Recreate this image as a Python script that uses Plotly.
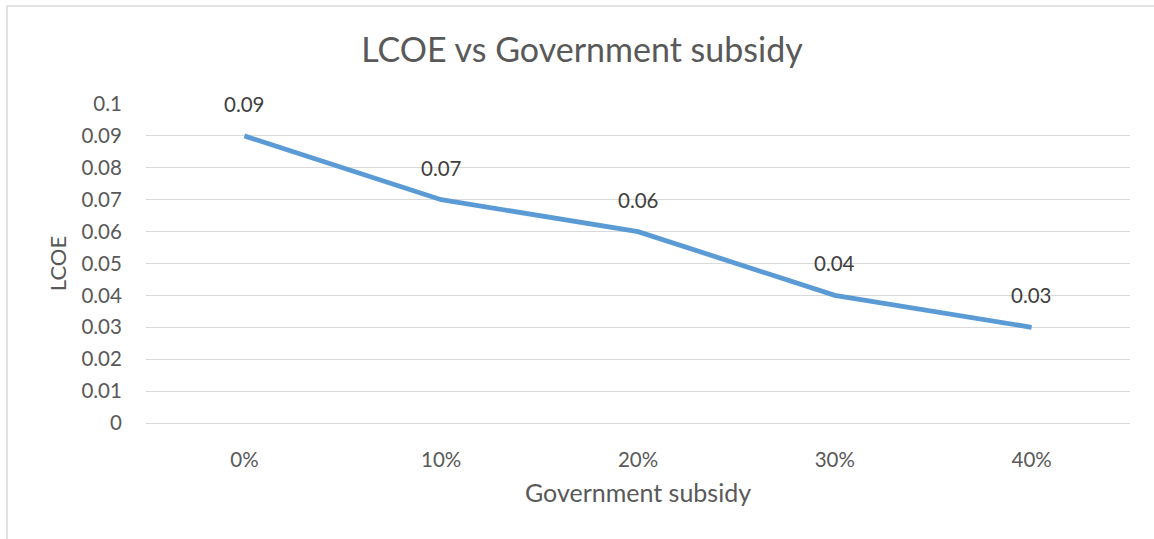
import plotly.graph_objects as go

# Data
subsidy = ["0%", "10%", "20%", "30%", "40%"]
lcoe = [0.09, 0.07, 0.06, 0.04, 0.03]
y_ticks = [0, 0.01, 0.02, 0.03, 0.04, 0.05, 0.06, 0.07, 0.08, 0.09, 0.1]

W, H = 1154, 539
L, R, T, B = 146, 24, 104, 116
pw, ph = W - L - R, H - T - B

FONT = "Lato, Open Sans, sans-serif"
GRAY = "#595959"

fig = go.Figure()
fig.add_trace(go.Scatter(
    x=subsidy, y=lcoe, mode="lines",
    line=dict(color="#5b9bd5", width=4.8),
    hoverinfo="x+y", showlegend=False,
))

# value labels above each point
for xv, yv in zip(subsidy, lcoe):
    fig.add_annotation(x=xv, y=yv, text=f"{yv:g}", showarrow=False,
                       yshift=32, font=dict(family=FONT, size=20.5, color="#404040"))

# outer chart border
def px_x(p):
    return (p - L) / pw

def px_y(p):
    return (H - B - p) / ph

fig.add_shape(type="rect", xref="paper", yref="paper",
              x0=px_x(7), x1=px_x(1170), y0=px_y(560), y1=px_y(6),
              line=dict(color="#d9d9d9", width=1.5), fillcolor="rgba(0,0,0,0)",
              layer="below")

fig.update_layout(
    width=W, height=H,
    margin=dict(l=L, r=R, t=T, b=B),
    paper_bgcolor="white", plot_bgcolor="white",
    font=dict(family=FONT, color=GRAY),
    title=dict(text="LCOE vs Government subsidy", x=582 / W, xanchor="center",
               y=1 - 50 / H, yanchor="middle",
               font=dict(family=FONT, size=34, color=GRAY)),
    xaxis=dict(
        type="category", range=[-0.5, 4.5],
        showgrid=False, showline=False, zeroline=False,
        ticks="outside", ticklen=18, tickcolor="rgba(0,0,0,0)",
        tickfont=dict(family=FONT, size=20.5, color=GRAY),
        title=dict(text="Government subsidy", standoff=14,
                   font=dict(family=FONT, size=25, color=GRAY)),
    ),
    yaxis=dict(
        range=[0, 0.1], tickvals=y_ticks, ticktext=[f"{v:g}" for v in y_ticks],
        showgrid=True, gridcolor="#d9d9d9", gridwidth=1,
        zeroline=True, zerolinecolor="#d9d9d9", zerolinewidth=1,
        showline=False,
        ticks="outside", ticklen=19, tickcolor="rgba(0,0,0,0)",
        tickfont=dict(family=FONT, size=20.5, color=GRAY),
        title=dict(text="LCOE", standoff=8,
                   font=dict(family=FONT, size=22, color=GRAY)),
    ),
)

fig.write_html("out.html")
